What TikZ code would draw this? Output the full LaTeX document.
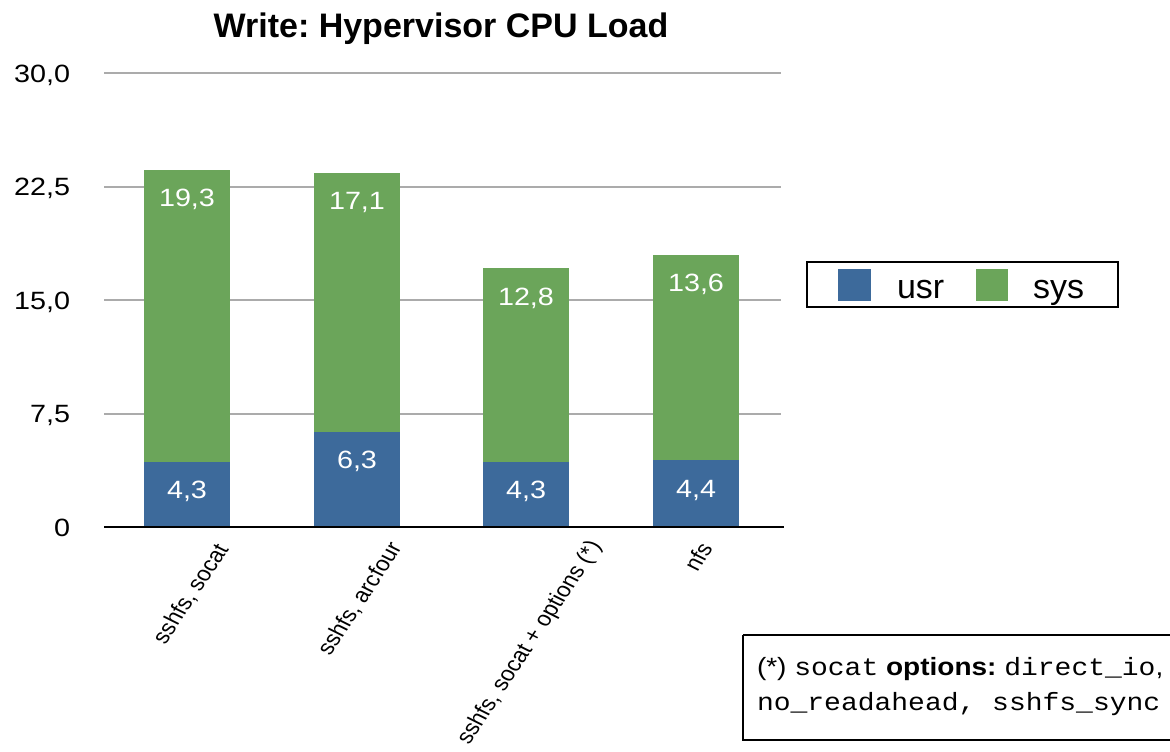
\documentclass[tikz,border=0pt]{standalone}
\usepackage{fontspec}
\setmainfont{Liberation Sans}
\newfontfamily\codefont{Liberation Mono}
\frenchspacing
\definecolor{usrblue}{HTML}{3D6A9B}
\definecolor{sysgreen}{HTML}{6BA55A}
\definecolor{gridgray}{HTML}{ABABAB}
\tikzset{
  wide/.style={inner sep=0pt, outer sep=0pt, xscale=1.15},
  titletext/.style={inner sep=0pt, outer sep=0pt, font=\fontsize{34}{40}\selectfont\bfseries},
  ticktext/.style={wide, font=\fontsize{25}{30}\selectfont, anchor=base east},
  valtext/.style={wide, font=\fontsize{25}{30}\selectfont, text=white, anchor=base},
  cattext/.style={wide, rotate=60, font=\fontsize{21}{25}\selectfont, anchor=center},
  legtext/.style={inner sep=0pt, outer sep=0pt, font=\fontsize{34}{40}\selectfont, anchor=base west},
  notetext/.style={inner sep=0pt, outer sep=0pt, xscale=1.12, font=\fontsize{25}{30}\selectfont, anchor=base west},
  gridline/.style={gridgray, line width=2pt},
  frame/.style={draw=black, line width=2pt},
}
\begin{document}
\begin{tikzpicture}[x=1pt, y=-1pt]
\useasboundingbox (0,0) rectangle (1170,752);

% title
\node[titletext, anchor=base] (title) at (441,38) {Write: Hypervisor CPU Load};

% horizontal grid and value axis labels (0 .. 30 in steps of 7.5)
\foreach \k/\lab in {1/{7,5}, 2/{15,0}, 3/{22,5}, 4/{30,0}} {
  \draw[gridline] (104,{527-\k*113.5}) -- (781,{527-\k*113.5});
  \node[ticktext] (tick\k) at (70,{527-\k*113.5+9}) {\lab};
}
\node[ticktext] (tick0) at (70,536) {0};

% stacked bars: usr at the bottom, sys on top
\foreach \i/\cx/\u/\ut/\s/\st in {1/187/4.3/{4,3}/19.3/{19,3},
                                   2/357/6.3/{6,3}/17.1/{17,1},
                                   3/526/4.3/{4,3}/12.8/{12,8},
                                   4/696/4.4/{4,4}/13.6/{13,6}} {
  \fill[usrblue] ({\cx-43},527) rectangle ({\cx+43},{527-\u*15.133});
  \fill[sysgreen] ({\cx-43},{527-\u*15.133}) rectangle ({\cx+43},{527-(\u+\s)*15.133});
  \node[valtext] (usr\i) at (\cx,{527-\u*15.133+37}) {\ut};
  \node[valtext] (sys\i) at (\cx,{527-(\u+\s)*15.133+37}) {\st};
}

% category axis
\draw[black, line width=2.5pt] (104,527) -- (784,527);
\node[cattext] (cat1) at (191,594) {sshfs, socat};
\node[cattext] (cat2) at (360,599) {sshfs, arcfour};
\node[cattext] (cat3) at (530,643) {sshfs, socat + options (*)};
\node[cattext] (cat4) at (698,557) {nfs};

% legend
\draw[frame] (807,262) rectangle (1118,307);
\fill[usrblue] (838,269) rectangle (871,301);
\node[legtext] (legusr) at (897,298) {usr};
\fill[sysgreen] (976,269) rectangle (1008,301);
\node[legtext] (legsys) at (1033,298) {sys};

% footnote on the socat options
\draw[frame] (743,635) -- (1180,635) (743,635) -- (743,740) -- (1180,740);
\node[notetext] (note1) at (757,675) {(*) {\codefont socat} \textbf{options:} {\codefont direct\_io},};
\node[notetext] (note2) at (757,710) {{\codefont no\_readahead, sshfs\_sync}};
\end{tikzpicture}
\end{document}
